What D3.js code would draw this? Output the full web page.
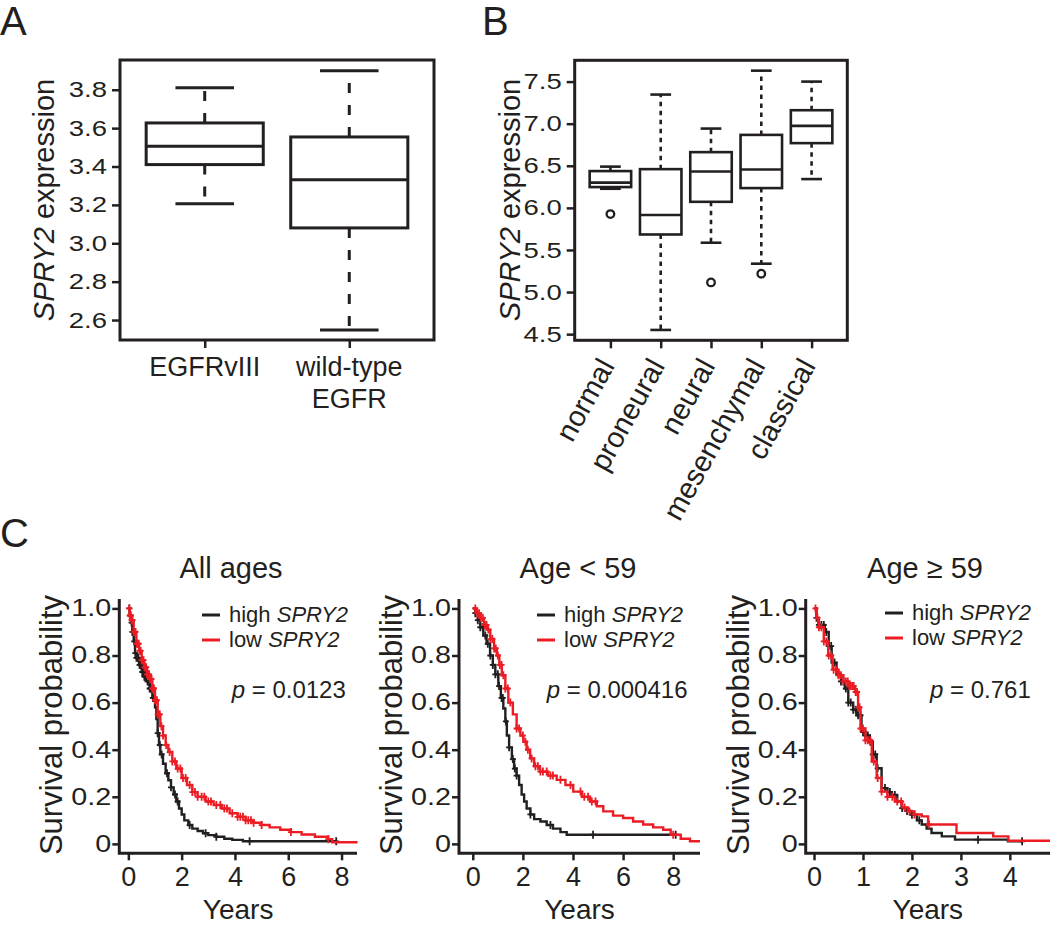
<!DOCTYPE html>
<html><head><meta charset="utf-8">
<script src="https://cdn.jsdelivr.net/npm/d3@7"></script>
<style>
body{margin:0;background:#fff}
svg{display:block}
text{font-family:"Liberation Sans",Arial,Helvetica,sans-serif;fill:#231f20}
</style></head>
<body><svg id="c" width="1050" height="926"></svg>
<script>
// ---------------- DATA ----------------
// Panel A
const catsA = [["EGFRvIII"], ["wild-type", "EGFR"]];
const minA = [3.206, 2.548];
const q1A  = [3.41, 3.08];
const medA = [3.505, 3.331];
const q3A  = [3.627, 3.554];
const maxA = [3.81, 3.899];
const ticksA = [2.6, 2.8, 3.0, 3.2, 3.4, 3.6, 3.8];

// Panel B
const catsB = ["normal", "proneural", "neural", "mesenchymal", "classical"];
const minB = [6.227, 4.55, 5.586, 5.337, 6.342];
const q1B  = [6.247, 5.684, 6.072, 6.235, 6.769];
const medB = [6.30, 5.915, 6.432, 6.456, 6.974];
const q3B  = [6.437, 6.46, 6.662, 6.867, 7.16];
const maxB = [6.49, 7.346, 6.942, 7.63, 7.5];
const outB = [[5.926], [], [5.115], [5.218], []];
const ticksB = [4.5, 5.0, 5.5, 6.0, 6.5, 7.0, 7.5];

// Panel C - Kaplan-Meier step curves (years, survival)
const kmTicksY = [0, 0.2, 0.4, 0.6, 0.8, 1.0];
const kmTitles = ["All ages", "Age < 59", "Age \u2265 59"];
const kmPvals = ["0.0123", "0.000416", "0.761"];
const kmTicksX = [[0, 2, 4, 6, 8], [0, 2, 4, 6, 8], [0, 1, 2, 3, 4]];
const kmGroups = ["high", "low"];

const allHighT = [0,0.05,0.1,0.15,0.2,0.25,0.3,0.4,0.5,0.6,0.7,0.8,0.9,1.0,1.05,1.1,1.15,1.2,1.3,1.4,1.5,1.6,1.7,1.8,1.9,2.0,2.1,2.25,2.4,2.6,2.8,3.0,3.3,3.6,3.9,4.3,7.8];
const allHighS = [1.0,0.97,0.94,0.90,0.86,0.81,0.79,0.76,0.73,0.71,0.69,0.66,0.62,0.58,0.53,0.47,0.42,0.38,0.34,0.30,0.27,0.24,0.21,0.18,0.15,0.125,0.10,0.08,0.065,0.055,0.045,0.037,0.03,0.022,0.017,0.011,0.011];
const allHighC = [0.04,0.08,0.12,0.15,0.19,0.22,0.26,0.3,0.34,0.38,0.42,0.45,0.49,0.52,0.56,0.6,0.63,0.66,0.69,0.72,0.76,0.8,0.83,0.86,0.89,0.92,0.95,0.98,1.1,1.18,1.25,1.45,1.6,1.75,1.85,2.3,2.9,3.3,4.55,7.8];
const allLowT = [0,0.05,0.1,0.2,0.3,0.4,0.5,0.6,0.7,0.8,0.9,1.0,1.1,1.2,1.3,1.4,1.5,1.65,1.8,2.0,2.2,2.4,2.6,2.9,3.2,3.5,3.8,4.1,4.4,4.7,5.0,5.3,5.7,6.1,6.5,7.0,7.5,7.65,8.6];
const allLowS = [1.0,0.97,0.95,0.90,0.85,0.82,0.78,0.75,0.72,0.70,0.66,0.61,0.55,0.50,0.46,0.42,0.39,0.35,0.32,0.28,0.25,0.22,0.20,0.18,0.165,0.15,0.13,0.115,0.10,0.09,0.08,0.07,0.06,0.05,0.04,0.03,0.02,0.007,0.007];
const allLowC = [0.03,0.05,0.09,0.12,0.16,0.2,0.24,0.27,0.31,0.35,0.39,0.42,0.46,0.5,0.54,0.57,0.61,0.64,0.67,0.7,0.74,0.78,0.81,0.84,0.87,0.9,0.93,0.96,1.0,1.03,1.07,1.1,1.14,1.18,1.24,1.3,1.42,1.55,1.65,1.75,1.85,1.95,2.05,2.15,2.3,2.4,2.5,2.6,2.75,2.85,3.0,3.1,3.3,3.45,3.6,3.7,3.9,4.1,4.2,4.3,4.4,4.5,4.6,4.7,5.0,6.1,7.5];

const youngHighT = [0,0.1,0.2,0.3,0.42,0.55,0.69,0.8,0.9,1.02,1.12,1.22,1.3,1.36,1.45,1.56,1.65,1.75,1.85,1.95,2.05,2.15,2.3,2.45,2.7,2.95,3.2,3.5,3.75,8.14];
const youngHighS = [1.0,0.98,0.95,0.92,0.885,0.85,0.80,0.76,0.72,0.67,0.62,0.575,0.52,0.46,0.41,0.36,0.32,0.29,0.25,0.21,0.18,0.15,0.125,0.105,0.095,0.08,0.065,0.05,0.039,0.039];
const youngHighC = [0.1,0.2,0.3,0.4,0.5,0.6,0.7,0.8,0.9,1.0,1.05,1.15,1.2,1.32,1.45,1.6,1.68,1.75,2.3,3.1,4.8,8.1];
const youngLowT = [0,0.15,0.3,0.45,0.56,0.7,0.85,0.96,1.06,1.16,1.3,1.42,1.6,1.75,1.9,2.02,2.15,2.29,2.45,2.68,3.0,3.35,3.7,4.01,4.35,4.68,4.95,5.21,5.6,6.0,6.4,6.8,7.2,7.6,7.9,8.3,8.67,9.07];
const youngLowS = [1.0,0.98,0.96,0.93,0.91,0.87,0.83,0.80,0.76,0.716,0.66,0.60,0.55,0.49,0.46,0.434,0.40,0.363,0.33,0.307,0.29,0.272,0.25,0.222,0.20,0.18,0.16,0.138,0.12,0.11,0.095,0.082,0.07,0.06,0.039,0.022,0.011,0.011];
const youngLowC = [0.1,0.18,0.25,0.32,0.4,0.48,0.55,0.62,0.7,0.78,0.85,0.92,1.0,1.08,1.15,1.22,1.3,1.4,1.5,1.75,1.85,2.0,2.1,2.2,2.35,2.5,2.6,2.7,2.8,2.95,3.1,3.2,3.5,3.9,4.3,4.45,4.6,4.75,4.9,8.0];

const oldHighT = [0,0.05,0.09,0.22,0.3,0.36,0.46,0.55,0.63,0.7,0.8,0.87,0.97,1.05,1.14,1.2,1.28,1.38,1.5,1.59,1.7,1.79,1.9,1.99,2.1,2.2,2.3,2.4,2.61,2.88,3.96,4.25];
const oldHighS = [1.0,0.96,0.93,0.90,0.84,0.77,0.72,0.69,0.66,0.60,0.57,0.546,0.476,0.46,0.434,0.38,0.321,0.237,0.22,0.208,0.18,0.152,0.14,0.124,0.10,0.082,0.065,0.046,0.032,0.018,0.011,0.011];
const oldHighC = [0.05,0.1,0.15,0.2,0.25,0.3,0.35,0.42,0.5,0.55,0.6,0.65,0.7,0.75,0.8,0.85,0.9,0.95,1.0,1.05,1.1,1.15,1.2,1.25,1.3,1.45,1.55,1.65,1.8,1.9,2.0,2.15,3.35,4.25];
const oldLowT = [0,0.05,0.1,0.2,0.29,0.38,0.5,0.6,0.7,0.84,0.9,0.95,1.05,1.18,1.28,1.38,1.5,1.65,1.8,1.92,2.05,2.2,2.33,2.91,3.66,3.97,4.82];
const oldLowS = [1.0,0.96,0.92,0.86,0.80,0.74,0.716,0.69,0.67,0.645,0.58,0.49,0.44,0.35,0.28,0.222,0.20,0.18,0.155,0.138,0.125,0.117,0.082,0.046,0.032,0.013,0.013];
const oldLowC = [0.03,0.07,0.1,0.15,0.2,0.25,0.3,0.35,0.4,0.45,0.5,0.55,0.6,0.65,0.69,0.72,0.75,0.78,0.81,0.85,0.88,0.9,0.93,0.95,1.0,1.05,1.1,1.15,1.22,1.3,1.38,1.5,1.6,1.7,1.78,1.85,1.95,2.05,2.35];

// ---------------- DRAWING ----------------
const INK = "#231f20", RED = "#ec1c24";
const svg = d3.select("#c");

function stretchTicks(sel, x, sx) {
  sel.selectAll("text").attr("transform", `translate(${x},0) scale(${sx},1) translate(${-x},0)`);
}

function panelLetter(txt, x, y) {
  svg.append("text").attr("x", x).attr("y", y).attr("font-size", 40).text(txt);
}
panelLetter("A", 0, 35);
panelLetter("B", 482, 35);
panelLetter("C", 0, 547);

function yTitle(x, y, size) {
  const t = svg.append("text").attr("transform", `translate(${x},${y}) rotate(-90)`)
    .attr("text-anchor", "middle").attr("font-size", size);
  t.append("tspan").attr("font-style", "italic").text("SPRY2");
  t.append("tspan").text(" expression");
}

function boxPanel(cfg) {
  const g = svg.append("g");
  const x = d3.scaleLinear().domain(cfg.xdom).range(cfg.xr);
  const y = d3.scaleLinear().domain(cfg.ydom).range(cfg.yr);
  const n = cfg.mins.length;
  const bw = x(cfg.boxw) - x(0);
  for (let i = 0; i < n; i++) {
    const cx = x(i + 1);
    g.append("line").attr("x1", cx).attr("x2", cx).attr("y1", y(cfg.q3[i])).attr("y2", y(cfg.maxs[i]))
      .attr("stroke", INK).attr("stroke-width", cfg.lw).attr("stroke-dasharray", cfg.dash);
    g.append("line").attr("x1", cx).attr("x2", cx).attr("y1", y(cfg.q1[i])).attr("y2", y(cfg.mins[i]))
      .attr("stroke", INK).attr("stroke-width", cfg.lw).attr("stroke-dasharray", cfg.dash);
    [cfg.mins[i], cfg.maxs[i]].forEach(v => {
      g.append("line").attr("x1", cx - bw / 4).attr("x2", cx + bw / 4).attr("y1", y(v)).attr("y2", y(v))
        .attr("stroke", INK).attr("stroke-width", cfg.lw);
    });
    g.append("rect").attr("x", cx - bw / 2).attr("width", bw)
      .attr("y", y(cfg.q3[i])).attr("height", y(cfg.q1[i]) - y(cfg.q3[i]))
      .attr("fill", "#fff").attr("stroke", INK).attr("stroke-width", cfg.lw);
    g.append("line").attr("x1", cx - bw / 2).attr("x2", cx + bw / 2).attr("y1", y(cfg.meds[i])).attr("y2", y(cfg.meds[i]))
      .attr("stroke", INK).attr("stroke-width", cfg.lw);
    (cfg.outs ? cfg.outs[i] : []).forEach(v => {
      g.append("circle").attr("cx", cx).attr("cy", y(v)).attr("r", 3.8)
        .attr("fill", "none").attr("stroke", INK).attr("stroke-width", 2.3);
    });
  }
  g.append("rect").attr("x", cfg.xr[0]).attr("y", cfg.yr[1])
    .attr("width", cfg.xr[1] - cfg.xr[0]).attr("height", cfg.yr[0] - cfg.yr[1])
    .attr("fill", "none").attr("stroke", INK).attr("stroke-width", 3);
  const ay = g.append("g").attr("transform", `translate(${cfg.xr[0]},0)`)
    .call(d3.axisLeft(y).tickValues(cfg.ticks).tickFormat(d3.format(".1f")).tickSize(8).tickPadding(5));
  ay.select(".domain").remove();
  ay.selectAll("line").attr("stroke", INK).attr("stroke-width", 2.5);
  ay.selectAll("text").attr("font-size", 22).attr("fill", INK).attr("font-family", null);
  stretchTicks(ay, -13, 1.25);
  const ax = g.append("g").attr("transform", `translate(0,${cfg.yr[0]})`)
    .call(d3.axisBottom(x).tickValues(d3.range(1, n + 1)).tickSize(8).tickFormat(""));
  ax.select(".domain").remove();
  ax.selectAll("line").attr("stroke", INK).attr("stroke-width", 2.5);
  return {g, x, y};
}

// Panel A
const pA = boxPanel({xdom: [0.414, 2.586], xr: [120, 434], ydom: [2.496, 3.955], yr: [340, 60],
  mins: minA, q1: q1A, meds: medA, q3: q3A, maxs: maxA, ticks: ticksA, boxw: 0.81, lw: 3, dash: "10,12"});
catsA.forEach((lines, i) => {
  const t = svg.append("text").attr("text-anchor", "middle").attr("font-size", 27);
  lines.forEach((l, k) => t.append("tspan").attr("x", pA.x(i + 1)).attr("y", 376 + k * 32).text(l));
});
yTitle(54, 200, 29);

// Panel B
const pB = boxPanel({xdom: [0.29, 5.71], xr: [574.7, 847.3], ydom: [4.427, 7.753], yr: [340.3, 60.3],
  mins: minB, q1: q1B, meds: medB, q3: q3B, maxs: maxB, outs: outB, ticks: ticksB, boxw: 0.825, lw: 2.6, dash: "4.5,4.5"});
catsB.forEach((c, i) => {
  svg.append("text").attr("transform", `translate(${pB.x(i + 1) - 4},361) rotate(-61)`)
    .attr("text-anchor", "end").attr("dy", "0.35em").attr("font-size", 29).text(c);
});
yTitle(520, 200, 29);

// Panel C
function kmPanel(cfg) {
  const g = svg.append("g");
  const x = d3.scaleLinear().domain(cfg.xdom).range(cfg.xr);
  const y = d3.scaleLinear().domain([-0.04, 1.04]).range([853.3, 599]);
  const line = d3.line().curve(d3.curveStepAfter).x(d => x(d[0])).y(d => y(d[1]));
  cfg.curves.forEach(c => {
    const pts = c.t.map((t, i) => [t, c.s[i]]);
    g.append("path").attr("d", line(pts)).attr("fill", "none").attr("stroke", c.color).attr("stroke-width", 2.4);
    c.cens.forEach(ct => {
      const idx = Math.max(0, d3.bisectRight(c.t, ct) - 1);
      const px = x(ct), py = y(c.s[idx]);
      g.append("path").attr("d", `M${px},${py - 4}V${py + 4}M${px - 3},${py}H${px + 3}`)
        .attr("stroke", c.color).attr("stroke-width", 1.8);
    });
  });
  g.append("path").attr("d", `M${cfg.xr[0]},599V853.3H${cfg.xr[1]}`).attr("fill", "none")
    .attr("stroke", INK).attr("stroke-width", 3);
  const ay = g.append("g").attr("transform", `translate(${cfg.xr[0]},0)`)
    .call(d3.axisLeft(y).tickValues(kmTicksY).tickFormat(d => d === 0 ? "0" : d3.format(".1f")(d)).tickSize(7).tickPadding(1));
  ay.select(".domain").remove();
  ay.selectAll("line").attr("stroke", INK).attr("stroke-width", 2.5);
  ay.selectAll("text").attr("font-size", 23).attr("fill", INK).attr("font-family", null);
  stretchTicks(ay, -8, 1.25);
  const ax = g.append("g").attr("transform", `translate(0,853.3)`)
    .call(d3.axisBottom(x).tickValues(cfg.xticks).tickFormat(d3.format("d")).tickSize(7).tickPadding(4));
  ax.select(".domain").remove();
  ax.selectAll("line").attr("stroke", INK).attr("stroke-width", 2.5);
  ax.selectAll("text").attr("font-size", 27).attr("fill", INK).attr("font-family", null)
    .attr("dy", null).attr("y", 33);
  const cx = (cfg.xr[0] + cfg.xr[1]) / 2;
  svg.append("text").attr("x", cx).attr("y", 919).attr("text-anchor", "middle").attr("font-size", 28).text("Years");
  svg.append("text").attr("transform", `translate(${cfg.xr[0] - 57},725) rotate(-90)`)
    .attr("text-anchor", "middle").attr("font-size", 31).text("Survival probability");
  svg.append("text").attr("x", cfg.titleX).attr("y", 578).attr("text-anchor", "middle").attr("font-size", 29).text(cfg.title);
  // legend
  cfg.curves.forEach((c, i) => {
    const ly = cfg.legY[i];
    g.append("line").attr("x1", cfg.legX).attr("x2", cfg.legX + 18).attr("y1", ly).attr("y2", ly)
      .attr("stroke", c.color).attr("stroke-width", 3);
    const t = svg.append("text").attr("x", cfg.legX + 27).attr("y", ly + 6.5).attr("font-size", 22);
    t.append("tspan").text(kmGroups[i] + " ");
    t.append("tspan").attr("font-style", "italic").text("SPRY2");
  });
  const p = svg.append("text").attr("x", cfg.pX).attr("y", 698).attr("font-size", 24);
  p.append("tspan").attr("font-style", "italic").text("p");
  p.append("tspan").text(" = " + cfg.pval);
}

kmPanel({xdom: [-0.34, 8.58], xr: [119.3, 357], xticks: kmTicksX[0], title: kmTitles[0], titleX: 231,
  legX: 202, legY: [615, 640], pX: 231.7, pval: kmPvals[0],
  curves: [{t: allHighT, s: allHighS, cens: allHighC, color: INK}, {t: allLowT, s: allLowS, cens: allLowC, color: RED}]});
kmPanel({xdom: [-0.55, 9.07], xr: [459, 700], xticks: kmTicksX[1], title: kmTitles[1], titleX: 578,
  legX: 537, legY: [615, 640], pX: 546.7, pval: kmPvals[1],
  curves: [{t: youngHighT, s: youngHighS, cens: youngHighC, color: INK}, {t: youngLowT, s: youngLowS, cens: youngLowC, color: RED}]});
kmPanel({xdom: [-0.17, 4.82], xr: [805.7, 1050], xticks: kmTicksX[2], title: kmTitles[2], titleX: 925,
  legX: 885, legY: [613, 638], pX: 930, pval: kmPvals[2],
  curves: [{t: oldHighT, s: oldHighS, cens: oldHighC, color: INK}, {t: oldLowT, s: oldLowS, cens: oldLowC, color: RED}]});
</script></body></html>
